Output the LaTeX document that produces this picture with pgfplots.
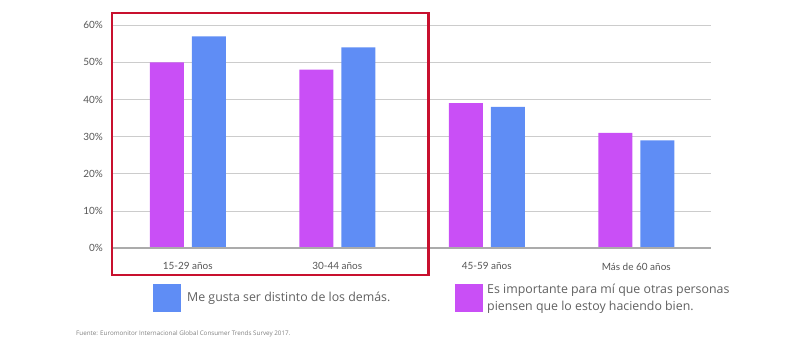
\documentclass[border=0pt]{standalone}
\usepackage{pgfplots}
\pgfplotsset{compat=1.18}
\usepackage{fontspec}
\setmainfont{Lato}
\newfontfamily\legfont{Open Sans}
\usetikzlibrary{calc}
\definecolor{mag}{HTML}{C94FF6}
\definecolor{blu}{HTML}{5F8DF5}
\definecolor{redbox}{HTML}{C8102E}
\definecolor{txt}{HTML}{555555}
\definecolor{legtxt}{HTML}{606060}
\begin{document}
\begin{tikzpicture}
\begin{axis}[
  x=149.5bp, y=3.72bp,
  xmin=-0.5, xmax=3.5, ymin=0, ymax=60,
  axis line style={draw=none},
  tick style={draw=none},
  ymajorgrids, grid style={color=black!20, line width=1.1bp},
  ytick={0,10,20,30,40,50,60},
  yticklabels={0\%,10\%,20\%,30\%,40\%,50\%,60\%},
  yticklabel style={font=\fontsize{10}{12}\selectfont, text=txt, anchor=east, inner sep=0pt, xshift=-10bp},
  xtick={0,1,2,3},
  xticklabels={15-29 años,30-44 años,45-59 años,Más de 60 años},
  xticklabel style={font=\fontsize{10}{12}\selectfont, text=txt, anchor=north, inner sep=0pt, yshift=-10bp},
  ybar, bar width=34bp,
  clip=false,
]
\addplot[fill=mag, draw=none, bar shift=-21bp] coordinates {(0,50) (1,48) (2,39) (3,31)};
\addplot[fill=blu, draw=none, bar shift=21bp] coordinates {(0,57) (1,54) (2,38) (3,29)};
\draw[color=black!33, line width=2bp] (axis cs:-0.5,0) -- (axis cs:3.5,0);
\draw[redbox, line width=2.4bp] (axis cs:-0.505,-7.18) rectangle (axis cs:1.609,63.25);
\coordinate (O) at (axis cs:-0.5,0);
\end{axis}
\begin{scope}[shift={($(O)+(-113bp,248.3bp)$)}, x=1bp, y=-1bp]
\fill[blu] (153,284) rectangle (181,311.5);
\node[anchor=west, inner sep=0pt, text=legtxt, font=\legfont\fontsize{12.4}{17.5}\selectfont] at (187,298.5) {Me gusta ser distinto de los demás.};
\fill[mag] (455,284) rectangle (483,311.5);
\node[anchor=west, inner sep=0pt, text=legtxt, align=left, font=\legfont\fontsize{12.4}{17.5}\selectfont] at (487,299) {Es importante para mí que otras personas\\piensen que lo estoy haciendo bien.};
\node[anchor=west, inner sep=0pt, text=black!50, font=\legfont\fontsize{6.3}{7}\selectfont] at (76,334) {Fuente: Euromonitor Internacional Global Consumer Trends Survey 2017.};
\pgfresetboundingbox
\useasboundingbox (0,0) rectangle (800,345);
\end{scope}
\end{tikzpicture}
\end{document}
